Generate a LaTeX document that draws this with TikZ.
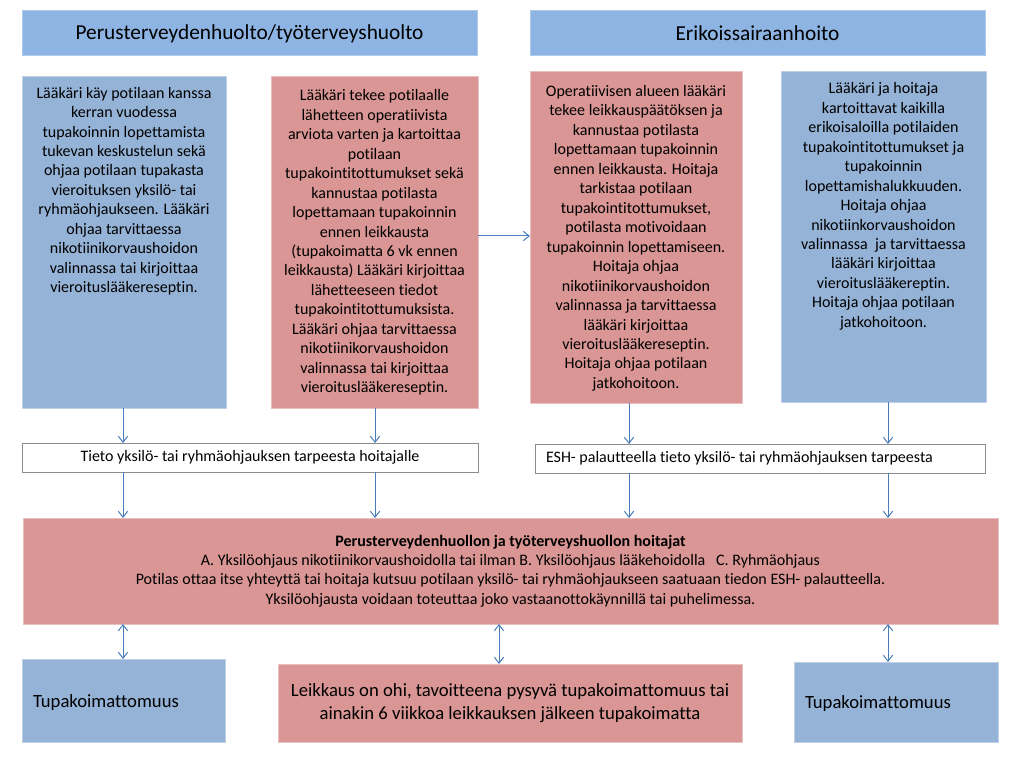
\documentclass[tikz,border=0pt]{standalone}
\usepackage{fontspec}
\setmainfont{Carlito}[Ligatures={NoCommon}]
\usetikzlibrary{arrows.meta,calc}
\definecolor{hdr}{HTML}{8DB4E2}
\definecolor{bfill}{HTML}{95B3D7}
\definecolor{rfill}{HTML}{D99694}
\definecolor{arrc}{HTML}{4A7EBB}
\definecolor{greyb}{HTML}{8C8C8C}
\newcommand\mkbox[6]{\node[#1, anchor=north west, minimum width={(#4-#2)*0.75pt}, minimum height={(#5-#3)*0.75pt}] (#6) at (#2,#3)}
\begin{document}
\begin{tikzpicture}[x=0.75pt,y=-0.75pt,
  every node/.style={inner sep=0pt, outer sep=0pt, text=black},
  base/.style={rectangle, line width=0.75pt},
  hdrbox/.style={base, fill=hdr, draw=hdr!70!white, font=\fontsize{16}{19.5}\selectfont},
  bluebox/.style={base, fill=bfill, draw=bfill!60!white},
  redbox/.style={base, fill=rfill, draw=rfill!60!white},
  whitebox/.style={base, fill=white, draw=greyb, line width=0.6pt},
  txt/.style={align=center, font=\fontsize{12}{14.6}\selectfont},
  bigtxt/.style={align=center, font=\fontsize{14}{17.8}\selectfont},
  barb/.tip={Straight Barb[length=4.5pt,width=7pt]},
  arr/.style={draw=arrc, line width=0.75pt, -barb},
  dbl/.style={draw=arrc, line width=0.75pt, barb-barb}]
\useasboundingbox (0,0) rectangle (1021,759);

% headers
\mkbox{hdrbox}{22}{11}{477}{56}{h1} {Perusterveydenhuolto/työterveyshuolto};
\mkbox{hdrbox}{530}{11}{985}{56}{h2} {Erikoissairaanhoito};

% upper boxes
\mkbox{bluebox}{22}{77}{226}{408}{b1} {};
\mkbox{redbox}{271}{77}{478}{408}{b2} {};
\mkbox{redbox}{530}{72}{742}{403}{b3} {};
\mkbox{bluebox}{781}{72}{986}{402}{b4} {};

\node[txt, anchor=north] (t1) at ([yshift=-7.5pt]b1.north) {Lääkäri käy potilaan kanssa\\kerran vuodessa\\tupakoinnin lopettamista\\tukevan keskustelun sekä\\ohjaa potilaan tupakasta\\vieroituksen yksilö- tai\\ryhmäohjaukseen. Lääkäri\\ohjaa tarvittaessa\\nikotiinikorvaushoidon\\valinnassa tai kirjoittaa\\vieroituslääkereseptin.};
\node[txt, anchor=north] (t2) at ([yshift=-9.5pt]b2.north) {Lääkäri tekee potilaalle\\lähetteen operatiivista\\arviota varten ja kartoittaa\\potilaan\\tupakointitottumukset sekä\\kannustaa potilasta\\lopettamaan tupakoinnin\\ennen leikkausta\\(tupakoimatta 6 vk ennen\\leikkausta) Lääkäri kirjoittaa\\lähetteeseen tiedot\\tupakointitottumuksista.\\Lääkäri ohjaa tarvittaessa\\nikotiinikorvaushoidon\\valinnassa tai kirjoittaa\\vieroituslääkereseptin.};
\node[txt, anchor=north] (t3) at ([yshift=-10pt]b3.north) {Operatiivisen alueen lääkäri\\tekee leikkauspäätöksen ja\\kannustaa potilasta\\lopettamaan tupakoinnin\\ennen leikkausta. Hoitaja\\tarkistaa potilaan\\tupakointitottumukset,\\potilasta motivoidaan\\tupakoinnin lopettamiseen.\\Hoitaja ohjaa\\nikotiinikorvaushoidon\\valinnassa ja tarvittaessa\\lääkäri kirjoittaa\\vieroituslääkereseptin.\\Hoitaja ohjaa potilaan\\jatkohoitoon.};
\node[txt, anchor=north] (t4) at ([yshift=-8pt]b4.north) {Lääkäri ja hoitaja\\kartoittavat kaikilla\\erikoisaloilla potilaiden\\tupakointitottumukset ja\\tupakoinnin\\lopettamishalukkuuden.\\Hoitaja ohjaa\\nikotiinkorvaushoidon\\valinnassa \ ja tarvittaessa\\lääkäri kirjoittaa\\vieroituslääkereptin.\\Hoitaja ohjaa potilaan\\jatkohoitoon.};

% info boxes
\mkbox{whitebox, txt}{22}{443}{478}{472}{w1} {Tieto yksilö- tai ryhmäohjauksen tarpeesta hoitajalle};
\mkbox{whitebox}{535}{444}{985}{473}{w2} {};
\node[txt, anchor=west] (w2t) at ([xshift=8.25pt]w2.west) {ESH- palautteella tieto yksilö- tai ryhmäohjauksen tarpeesta};

% big box
\mkbox{redbox, txt}{23}{518}{998}{624}{big} {\textbf{Perusterveydenhuollon ja työterveyshuollon hoitajat}\\A. Yksilöohjaus nikotiinikorvaushoidolla tai ilman B. Yksilöohjaus lääkehoidolla \ \ C. Ryhmäohjaus\\Potilas ottaa itse yhteyttä tai hoitaja kutsuu potilaan yksilö- tai ryhmäohjaukseen saatuaan tiedon ESH- palautteella.\\Yksilöohjausta voidaan toteuttaa joko vastaanottokäynnillä tai puhelimessa.};

% bottom boxes
\mkbox{bluebox}{22}{659}{225}{742}{e1} {};
\node[bigtxt, anchor=west] (e1t) at ([xshift=8.25pt,yshift=-1.5pt]e1.west) {Tupakoimattomuus};
\mkbox{redbox, bigtxt}{278}{664}{742}{742}{e2} {Leikkaus on ohi, tavoitteena pysyvä tupakoimattomuus tai\\ainakin 6 viikkoa leikkauksen jälkeen tupakoimatta};
\mkbox{bluebox}{794}{662}{998}{742}{e3} {};
\node[bigtxt, anchor=west] (e3t) at ([xshift=8.25pt,yshift=-1.5pt]e3.west) {Tupakoimattomuus};

% connector columns
\coordinate (xa) at (123,0);
\coordinate (xb) at (375,0);
\coordinate (xc) at (629,0);
\coordinate (xd) at (888,0);
\coordinate (xe) at (499,0);
\coordinate (yh) at (0,236);

\draw[arr] (b1.south -| xa) -- (w1.north -| xa);
\draw[arr] (b2.south -| xb) -- (w1.north -| xb);
\draw[arr] (b3.south -| xc) -- (w2.north -| xc);
\draw[arr] (b4.south -| xd) -- (w2.north -| xd);
\draw[arr] (w1.south -| xa) -- (big.north -| xa);
\draw[arr] (w1.south -| xb) -- (big.north -| xb);
\draw[arr] (w2.south -| xc) -- (big.north -| xc);
\draw[arr] (w2.south -| xd) -- (big.north -| xd);
\draw[arr] (b2.east |- yh) -- (b3.west |- yh);

\draw[dbl] (big.south -| xa) -- (e1.north -| xa);
\draw[dbl] (big.south -| xe) -- (e2.north -| xe);
\draw[dbl] (big.south -| xd) -- (e3.north -| xd);
\end{tikzpicture}
\end{document}
